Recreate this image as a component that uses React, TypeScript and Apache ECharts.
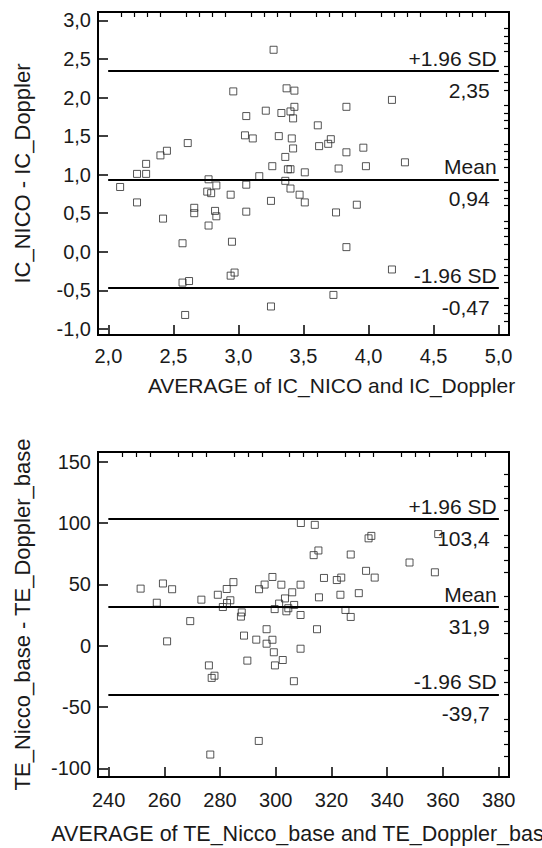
import React, { useEffect, useRef } from "react";
import * as echarts from "echarts";

// ---------- Panel 1: IC ----------
const icAvg = [3.27, 2.96, 3.37, 3.43, 4.18, 3.83, 3.43, 3.40, 3.33, 3.21, 3.06, 3.42, 3.61, 2.61, 3.05, 3.11, 3.31, 3.41, 3.71, 3.69, 3.62, 3.42, 3.96, 3.83, 2.45, 2.40, 3.36, 2.09, 2.22, 2.29, 2.29, 2.22, 2.42, 2.57, 2.66, 2.66, 2.77, 2.76, 2.79, 2.83, 2.82, 2.83, 2.77, 2.57, 2.62, 2.59, 2.94, 2.95, 2.94, 2.97, 3.06, 3.06, 3.16, 3.25, 3.26, 3.25, 3.38, 3.40, 3.36, 3.40, 3.47, 3.51, 3.51, 3.77, 3.98, 3.75, 3.91, 3.83, 3.73, 4.18, 4.28];
const icDiff = [2.62, 2.08, 2.12, 2.09, 1.97, 1.88, 1.88, 1.82, 1.80, 1.83, 1.76, 1.73, 1.64, 1.41, 1.51, 1.47, 1.50, 1.47, 1.46, 1.40, 1.37, 1.34, 1.35, 1.29, 1.31, 1.25, 1.23, 0.84, 1.01, 1.01, 1.14, 0.64, 0.43, 0.11, 0.57, 0.50, 0.94, 0.78, 0.76, 0.86, 0.53, 0.46, 0.34, -0.40, -0.38, -0.82, 0.74, 0.13, -0.31, -0.27, 0.87, 0.52, 0.98, 0.66, 1.11, -0.71, 1.07, 1.07, 0.92, 0.82, 0.74, 0.64, 1.03, 1.08, 1.11, 0.51, 0.61, 0.06, -0.56, -0.23, 1.16];
const icLimitValues = [2.35, 0.94, -0.47];
const icLimitNames = ["+1.96 SD", "Mean", "-1.96 SD"];
const icLimitTexts = ["2,35", "0,94", "-0,47"];
const icXTicks = [2.0, 2.5, 3.0, 3.5, 4.0, 4.5, 5.0];
const icYTicks = [-1.0, -0.5, 0.0, 0.5, 1.0, 1.5, 2.0, 2.5, 3.0];
const icXTitle = "AVERAGE of IC_NICO and IC_Doppler";
const icYTitle = "IC_NICO - IC_Doppler";

// ---------- Panel 2: TE ----------
const teAvg = [251.5, 257.3, 259.5, 262.8, 261, 269.3, 273.3, 276, 277, 278, 276.5, 279.2, 281, 282.5, 283.7, 282.4, 284.8, 287.8, 287.5, 288.6, 289.8, 293, 293.9, 294, 296, 298.8, 296.7, 296.7, 298.8, 299.3, 299.7, 302.5, 299.6, 301.2, 303.3, 302, 303.8, 304.5, 306.6, 305.9, 308.9, 308.9, 308.9, 306.5, 309, 314, 313.6, 315.3, 317.3, 315.5, 314.8, 321.9, 323.5, 323.2, 325, 326.9, 326.9, 329.8, 332.4, 335.5, 333.3, 334.3, 348, 357.1, 358.3];
const teDiff = [46.5, 35, 50.7, 46, 3.5, 20, 37.5, -16.1, -26.3, -24.5, -88.8, 41.5, 31.5, 34.8, 37, 46.2, 51.8, 27.1, 23.7, 8.2, -12.2, 4.9, -77.7, 46, 49.8, 56, 13.4, 1.6, 4.8, -5.4, -16.1, -11.7, 29.8, 34.3, 38.5, 49.7, 28, 30.5, 33.2, 43.5, 49.7, 25, -2.5, -29, 100, 98.5, 73.8, 77.6, 55.2, 39.4, 13.4, 53.5, 55.5, 41.5, 29.1, 23.4, 74.3, 42.8, 61, 55.5, 87.5, 89.5, 67.8, 59.8, 91];
const teLimitValues = [103.4, 31.9, -39.7];
const teLimitNames = ["+1.96 SD", "Mean", "-1.96 SD"];
const teLimitTexts = ["103,4", "31,9", "-39,7"];
const teXTicks = [240, 260, 280, 300, 320, 340, 360, 380];
const teYTicks = [-100, -50, 0, 50, 100, 150];
const teXTitle = "AVERAGE of TE_Nicco_base and TE_Doppler_base";
const teYTitle = "TE_Nicco_base - TE_Doppler_base";

const FONT = "'Liberation Sans', Arial, Helvetica, sans-serif";
const TXT = "#1a1a1a";

function minorValues(ticks: number[], parts: number): number[] {
  const out: number[] = [];
  for (let i = 0; i < ticks.length - 1; i++) {
    const step = (ticks[i + 1] - ticks[i]) / parts;
    for (let k = 1; k < parts; k++) out.push(Math.round((ticks[i] + k * step) * 1000) / 1000);
  }
  return out;
}

function fmt(decimals: number) {
  return (v: number) => v.toFixed(decimals).replace(".", ",");
}

function App() {
  const ref = useRef<HTMLDivElement>(null);
  useEffect(() => {
    if (!ref.current) return;
    const chart = echarts.init(ref.current, undefined, { renderer: "svg" });

    const panels = [
      {
        grid: { left: 98, top: 12, width: 411, height: 323 },
        xMin: 1.92, xMax: 5.08, yMin: -1.08, yMax: 3.11,
        xTicks: icXTicks, yTicks: icYTicks, xMinorParts: 5, yMinorParts: 5,
        dec: 1, xs: icAvg, ys: icDiff,
        lv: icLimitValues, ln: icLimitNames, lt: icLimitTexts,
        xTitle: icXTitle, yTitle: icYTitle,
        labelMargin: 11, xNameGap: 40, xNameShift: 56, xNameSize: 21,
      },
      {
        grid: { left: 98, top: 452, width: 411, height: 325 },
        xMin: 236.2, xMax: 383.7, yMin: -107.1, yMax: 157.9,
        xTicks: teXTicks, yTicks: teYTicks, xMinorParts: 4, yMinorParts: 5,
        dec: 0, xs: teAvg, ys: teDiff,
        lv: teLimitValues, ln: teLimitNames, lt: teLimitTexts,
        xTitle: teXTitle, yTitle: teYTitle,
        labelMargin: 13, xNameGap: 46, xNameShift: 0, xNameSize: 21.5,
      },
    ];

    const grids: any[] = [];
    const xAxes: any[] = [];
    const yAxes: any[] = [];
    const series: any[] = [];

    panels.forEach((p, gi) => {
      grids.push({
        ...p.grid,
        show: true,
        borderColor: "#000",
        borderWidth: 2,
        backgroundColor: "transparent",
        containLabel: false,
        outerBoundsMode: "none",
      });
      const labelStyle = { color: TXT, fontSize: 20, fontFamily: FONT };
      xAxes.push({
        type: "value", gridIndex: gi, min: p.xMin, max: p.xMax,
        axisLine: { show: false, onZero: false },
        splitLine: { show: false },
        axisTick: { show: true, inside: true, length: 10, customValues: p.xTicks, lineStyle: { color: "#000", width: 1.5 } },
        axisLabel: { show: true, customValues: p.xTicks, margin: p.labelMargin, formatter: fmt(p.dec), ...labelStyle },
        name: p.xTitle, nameLocation: "middle", nameGap: p.xNameGap,
        nameTextStyle: { color: TXT, fontSize: p.xNameSize, fontFamily: FONT, padding: [0, 0, 0, p.xNameShift] },
      });
      xAxes.push({
        type: "value", gridIndex: gi, min: p.xMin, max: p.xMax,
        axisLine: { show: false, onZero: false }, splitLine: { show: false },
        axisTick: { show: true, inside: true, length: 5, customValues: minorValues(p.xTicks, p.xMinorParts), lineStyle: { color: "#000", width: 1.2 } },
        axisLabel: { show: false },
      });
      yAxes.push({
        type: "value", gridIndex: gi, min: p.yMin, max: p.yMax,
        axisLine: { show: false, onZero: false }, splitLine: { show: false },
        axisTick: { show: true, inside: true, length: 10, customValues: p.yTicks, lineStyle: { color: "#000", width: 1.5 } },
        axisLabel: { show: true, customValues: p.yTicks, margin: 7, formatter: fmt(p.dec), ...labelStyle },
        name: p.yTitle, nameLocation: "middle", nameGap: 65,
        nameTextStyle: { color: TXT, fontSize: 22, fontFamily: FONT },
      });
      yAxes.push({
        type: "value", gridIndex: gi, min: p.yMin, max: p.yMax,
        axisLine: { show: false, onZero: false }, splitLine: { show: false },
        axisTick: { show: true, inside: true, length: 5, customValues: minorValues(p.yTicks, p.yMinorParts), lineStyle: { color: "#000", width: 1.2 } },
        axisLabel: { show: false },
      });

      const xStart = p.xTicks[0];
      const xEnd = p.xTicks[p.xTicks.length - 1];
      const mlData: any[] = [];
      p.lv.forEach((v, i) => {
        mlData.push([
          { coord: [xStart, v], label: { show: true, position: "insideEndTop", formatter: p.ln[i], distance: 2 } },
          { coord: [xEnd, v] },
        ]);
        mlData.push([
          { coord: [xStart, v], label: { show: true, position: "insideEndBottom", formatter: p.lt[i], distance: 9 } },
          { coord: [xEnd, v] },
        ]);
      });

      series.push({
        type: "scatter",
        xAxisIndex: gi * 2,
        yAxisIndex: gi * 2,
        data: p.xs.map((x, i) => [x, p.ys[i]]),
        symbol: "rect",
        symbolSize: 7,
        itemStyle: { color: "rgba(255,255,255,0)", borderColor: "#2a2a2a", borderWidth: 1 },
        silent: true,
        markLine: {
          silent: true,
          symbol: ["none", "none"],
          lineStyle: { color: "#000", width: 2, type: "solid" },
          label: { color: TXT, fontSize: 21, fontFamily: FONT },
          emphasis: { disabled: true },
          data: mlData,
        },
        z: 3,
      });
    });

    chart.setOption({
      animation: false,
      backgroundColor: "#fff",
      textStyle: { fontFamily: FONT },
      grid: grids,
      xAxis: xAxes,
      yAxis: yAxes,
      series,
    });
    return () => chart.dispose();
  }, []);

  return (
    <div
      ref={ref}
      style={{ position: "absolute", left: 0, top: 0, width: 542, height: 848, background: "#fff" }}
    />
  );
}

export default App;
